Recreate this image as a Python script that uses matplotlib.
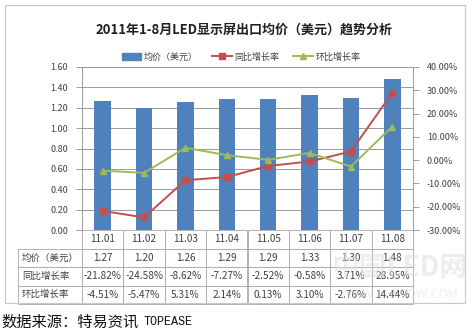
import matplotlib
matplotlib.use("Agg")
import matplotlib.pyplot as plt
from matplotlib.patches import Rectangle
from matplotlib.lines import Line2D
from matplotlib.ticker import FuncFormatter, MultipleLocator

plt.rcParams['font.family'] = ['Noto Sans CJK SC', 'DejaVu Sans']

months = ["11.01", "11.02", "11.03", "11.04", "11.05", "11.06", "11.07", "11.08"]
price = [1.27, 1.20, 1.26, 1.29, 1.29, 1.33, 1.30, 1.48]
yoy = [-21.82, -24.58, -8.62, -7.27, -2.52, -0.58, 3.71, 28.95]
mom = [-4.51, -5.47, 5.31, 2.14, 0.13, 3.10, -2.76, 14.44]

row_names = ["均价（美元）", "同比增长率", "环比增长率"]
title = "2011年1-8月LED显示屏出口均价（美元）趋势分析"
source = "数据来源：特易资讯"

BLUE = "#4F81BD"
RED = "#C0504D"
GREEN = "#9BBB59"
GRID = "#8c8c8c"
TXT = "#404040"

fig = plt.figure(figsize=(4.76, 3.31), dpi=100)
fig.patch.set_facecolor("white")

# outer chart frame
fig.add_artist(Rectangle((5 / 476, 1 - 303 / 331), 460 / 476, 298 / 331,
                         transform=fig.transFigure, fill=False,
                         edgecolor="#c8c8c8", linewidth=0.8))

ax = fig.add_axes([82 / 476, 1 - 230 / 331, 331 / 476, 163 / 331])
x = list(range(len(months)))
ax.bar(x, price, width=0.4, color=BLUE, zorder=2)
ax.set_xlim(-0.5, len(months) - 0.5)
ax.set_ylim(0, 1.6)
ax.yaxis.set_major_locator(MultipleLocator(0.2))
ax.yaxis.set_major_formatter(FuncFormatter(lambda v, p: f"{v:.2f}"))
ax.set_axisbelow(True)
ax.grid(axis="y", color=GRID, linewidth=0.6)
ax.set_xticks([])
for s in ["top", "right", "bottom"]:
    ax.spines[s].set_visible(False)
ax.spines["left"].set_color(GRID)
ax.spines["left"].set_linewidth(0.6)
ax.tick_params(axis="y", labelsize=6.5, labelcolor=TXT, color=GRID,
               length=4, width=0.6, pad=6)

ax2 = ax.twinx()
ax2.plot(x, yoy, color=RED, marker="s", markersize=4, linewidth=1.4, zorder=3)
ax2.plot(x, mom, color=GREEN, marker="^", markersize=4.5, linewidth=1.4, zorder=3)
ax2.set_ylim(-30, 40)
ax2.yaxis.set_major_locator(MultipleLocator(10))
ax2.yaxis.set_major_formatter(FuncFormatter(lambda v, p: f"{v:.2f}%"))
for s in ["top", "left", "bottom"]:
    ax2.spines[s].set_visible(False)
ax2.spines["right"].set_color(GRID)
ax2.spines["right"].set_linewidth(0.6)
ax2.tick_params(axis="y", labelsize=6.5, labelcolor=TXT, color=GRID,
                length=4, width=0.6, pad=6)

# data table under the plot (bbox covers the data grid; row labels sit left of it)
cells = [[f"{v:.2f}" for v in price],
         [f"{v:.2f}%" for v in yoy],
         [f"{v:.2f}%" for v in mom]]
tab = ax.table(cellText=cells, rowLabels=row_names, colLabels=months,
               cellLoc="center", rowLoc="left",
               bbox=[0, -74 / 163, 1, 74 / 163])
tab.auto_set_font_size(False)
tab.set_fontsize(7.2)
for (r, c), cell in tab.get_celld().items():
    cell.set_edgecolor("#a6a6a6")
    cell.set_linewidth(0.6)
    cell.get_text().set_color(TXT)
    if c == -1:
        cell.set_width(62 / 331)
        cell.get_text().set_fontsize(6.8)
        cell.PAD = 0.06

# legend
handles = [Rectangle((0, 0), 1, 1, color=BLUE),
           Line2D([], [], color=RED, marker="s", markersize=4, linewidth=1.4),
           Line2D([], [], color=GREEN, marker="^", markersize=4.5, linewidth=1.4)]
fig.legend(handles, ["均价（美元）", "同比增长率", "环比增长率"],
           loc="center", bbox_to_anchor=(241 / 476, 1 - 57 / 331), ncol=3,
           frameon=False, fontsize=6.5, handlelength=2.2, columnspacing=1.5,
           handletextpad=0.3, labelcolor=TXT)

fig.text(244 / 476, 1 - 30 / 331, title, ha="center", va="center",
         fontsize=9.4, fontweight="bold", color="#202020")

# watermark
fig.text(400 / 476, 1 - 268 / 331, "中国LED网", ha="center", va="center",
         fontsize=20, fontweight="bold", color="#dddddd", alpha=0.5)
fig.text(400 / 476, 1 - 294 / 331, "WWW.CNLEDW.COM", ha="center", va="center",
         fontsize=9, color="#dddddd", alpha=0.5)

# source line
fig.text(1 / 476, 1 - 322 / 331, source, ha="left", va="center",
         fontsize=11, color="#111111")
fig.text(144 / 476, 1 - 322 / 331, "TOPEASE", ha="left", va="center",
         fontsize=8.5, color="#111111", family="Liberation Mono")

fig.savefig("out.png", dpi=100)
